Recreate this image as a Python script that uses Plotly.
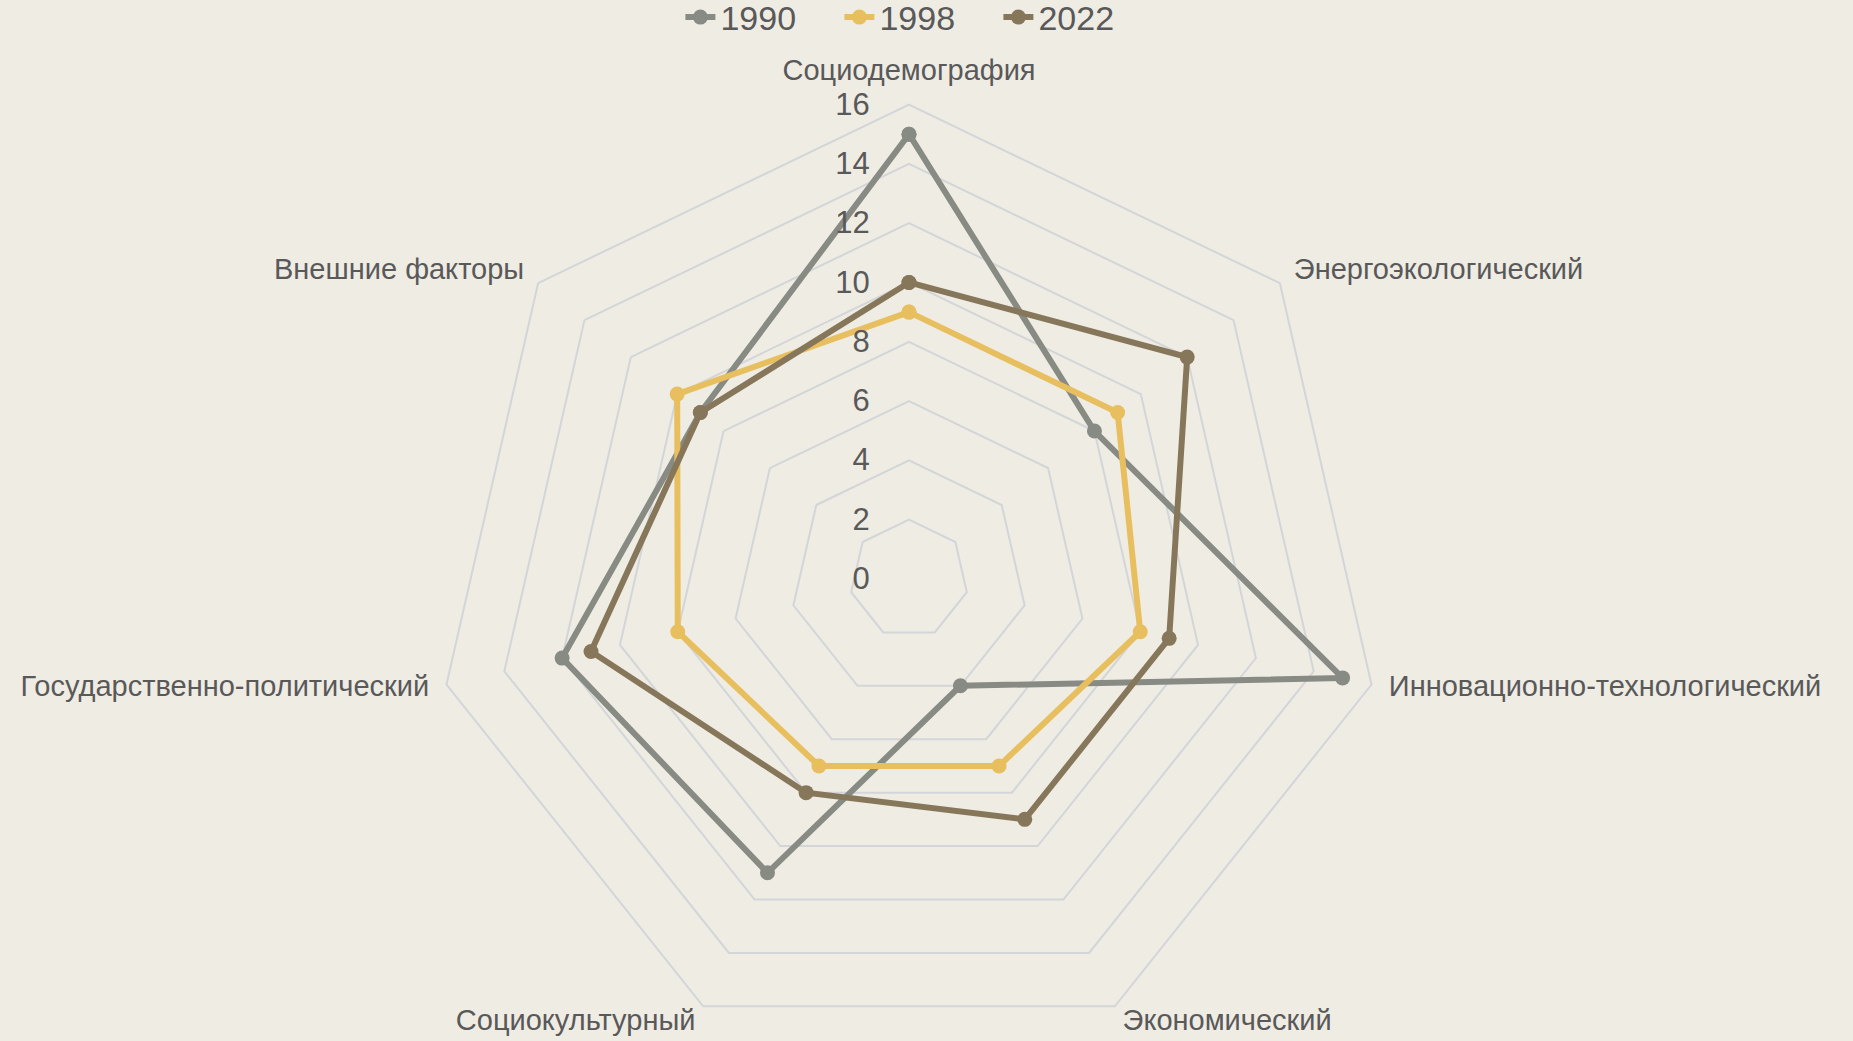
import plotly.graph_objects as go

categories = ["Социодемография", "Энергоэкологический", "Инновационно-технологический",
              "Экономический", "Социокультурный", "Государственно-политический", "Внешние факторы"]
v1990 = [15, 8, 15, 4, 11, 12, 9]
v1998 = [9, 9, 8, 7, 7, 8, 10]
v2022 = [10, 12, 9, 9, 8, 11, 9]
tick_vals = [0, 2, 4, 6, 8, 10, 12, 14, 16]

series = [("1990", v1990, "#888B84"), ("1998", v1998, "#E8BF5E"), ("2022", v2022, "#87775A")]

LABEL_R = 16.6
R_MAX = 17
label_pos = ["top center", "middle right", "middle right", "middle right",
             "middle left", "middle left", "middle left"]

fig = go.Figure()
for name, vals, col in series:
    fig.add_trace(go.Scatterpolar(
        r=vals + vals[:1], theta=categories + categories[:1], name=name,
        mode="lines+markers", line=dict(color=col, width=6),
        marker=dict(color=col, size=15)))

# category labels placed through the polar scales
fig.add_trace(go.Scatterpolar(
    r=[LABEL_R] * len(categories), theta=categories, text=categories,
    mode="text", textposition=label_pos, cliponaxis=False, showlegend=False,
    hoverinfo="skip", textfont=dict(size=29, color="#595959")))

W = 1853
PX_PER_UNIT = 29.65
rad_px = R_MAX * PX_PER_UNIT
CY = 579
H = int(round(CY + rad_px))
fig.update_layout(
    width=W, height=H,
    margin=dict(l=0, r=0, t=0, b=0, autoexpand=False),
    paper_bgcolor="#EFECE4", plot_bgcolor="#EFECE4",
    font=dict(family="Liberation Sans, Arial, sans-serif", color="#595959", size=29),
    legend=dict(orientation="h", x=0.4959, xanchor="center", y=1 + 11.5 / H, yanchor="top",
                font=dict(size=34, color="#595959"), bgcolor="rgba(0,0,0,0)",
                entrywidth=114),
    polar=dict(
        bgcolor="#EFECE4",
        gridshape="linear",
        domain=dict(x=[0, 1818 / W], y=[0, 2 * rad_px / H]),
        radialaxis=dict(range=[0, R_MAX], tickvals=tick_vals, angle=90, tickangle=90,
                        showline=False, ticks="outside", ticklen=28,
                        tickcolor="rgba(0,0,0,0)", gridcolor="#D3D5D8", gridwidth=1.5,
                        tickfont=dict(size=31, color="#595959"), side="counterclockwise"),
        angularaxis=dict(direction="clockwise", rotation=90, showgrid=False,
                         showline=False, ticks="", showticklabels=False),
    ),
)

fig.write_html("out.html", config={"displayModeBar": False},
               post_script="document.body.style.margin='0';document.body.style.overflow='hidden';")
